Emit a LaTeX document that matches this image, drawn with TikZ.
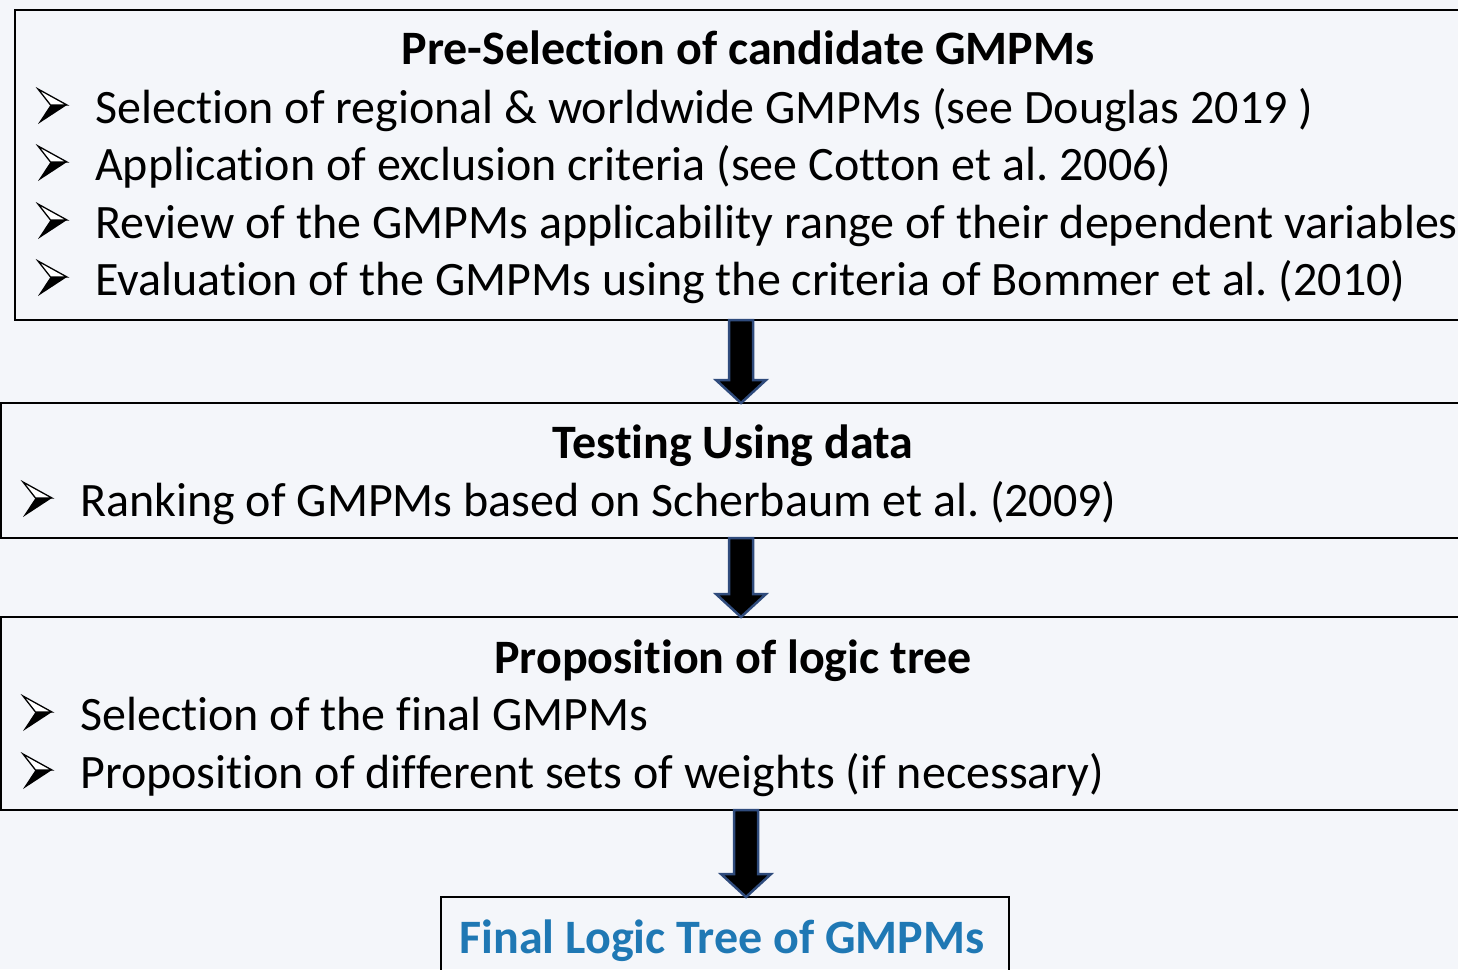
\documentclass[tikz,border=0pt]{standalone}
\usepackage{fontspec}
\setmainfont{Carlito}[Ligatures={NoCommon}]
\usetikzlibrary{calc}
\definecolor{bgcol}{HTML}{F4F6FA}
\definecolor{arrline}{HTML}{2F4B7C}
\definecolor{finalblue}{HTML}{1F78B4}
\frenchspacing
\tikzset{
  box/.style={draw=black, line width=2pt, inner sep=0pt, outer sep=0pt},
  bodytext/.style={anchor=base west, inner sep=0pt, font=\fontsize{48}{56}\selectfont},
  headtext/.style={anchor=base, inner sep=0pt, font=\fontsize{48}{56}\selectfont\bfseries},
  fatarrow/.style={fill=black, draw=arrline, line width=2.5pt, line join=miter},
  arrbullet/.pic={
    \fill[white] (0,-33) -- (29,-17) -- (12.5,-17) -- cycle;
    \draw[line width=1.3pt, line join=miter] (0,-33) -- (29,-17) -- (12.5,-17) -- cycle;
    \fill[black] (12.5,-17) -- (29,-17) -- (0,2) -- cycle;
  }
}
\newcommand\fatarr[3]{%
  \coordinate (fax) at (#3,0);
  \coordinate (fa1) at (#1.south -| fax);
  \coordinate (fa2) at (#2.north -| fax);
  \draw[fatarrow] ($(fa1)+(-12,0)$) -- ($(fa2)+(-12,-23)$) -- ($(fa2)+(-25,-23)$) -- (fa2)
     -- ($(fa2)+(25,-23)$) -- ($(fa2)+(12,-23)$) -- ($(fa1)+(12,0)$) -- cycle;
}
\begin{document}
\begin{tikzpicture}[x=1pt, y=-1pt]
\useasboundingbox (0,0) rectangle (1458,969);
\clip (0,0) rectangle (1458,969);
\fill[bgcol] (0,0) rectangle (1458,969);

% boxes
\node[box, minimum width=1460pt, minimum height=310pt] (box1) at (745,165) {};
\node[box, minimum width=1480pt, minimum height=135pt] (box2) at (741,470.5) {};
\node[box, minimum width=1480pt, minimum height=193pt] (box3) at (741,713.5) {};
\node[box, minimum width=568pt, minimum height=120pt] (box4) at (725,957) {};

% box 1 text
\node[headtext] (h1) at (748,64) {Pre-Selection of candidate GMPMs};
\pic at (38,122) {arrbullet};
\node[bodytext] (l11) at (95,123) {Selection of regional \& worldwide GMPMs (see Douglas 2019 )};
\pic at (38,179) {arrbullet};
\node[bodytext] (l12) at (95,180) {Application of exclusion criteria (see Cotton et al. 2006)};
\pic at (38,237) {arrbullet};
\node[bodytext] (l13) at (95,238) {Review of the GMPMs applicability range of their dependent variables};
\pic at (38,294) {arrbullet};
\node[bodytext] (l14) at (95,295) {Evaluation of the GMPMs using the criteria of Bommer et al. (2010)};

% box 2 text
\node[headtext] (h2) at (733,458) {Testing Using data};
\pic at (23,515) {arrbullet};
\node[bodytext] (l21) at (80,516) {Ranking of GMPMs based on Scherbaum et al. (2009)};

% box 3 text
\node[headtext] (h3) at (733,673) {Proposition of logic tree};
\pic at (23,729) {arrbullet};
\node[bodytext] (l31) at (80,730) {Selection of the final GMPMs};
\pic at (23,787) {arrbullet};
\node[bodytext] (l32) at (80,788) {Proposition of different sets of weights (if necessary)};

% box 4 text
\node[headtext, text=finalblue] (h4) at (722,953) {Final Logic Tree of GMPMs};

% arrows
\fatarr{box1}{box2}{741}
\fatarr{box2}{box3}{741}
\fatarr{box3}{box4}{746}
\end{tikzpicture}
\end{document}
